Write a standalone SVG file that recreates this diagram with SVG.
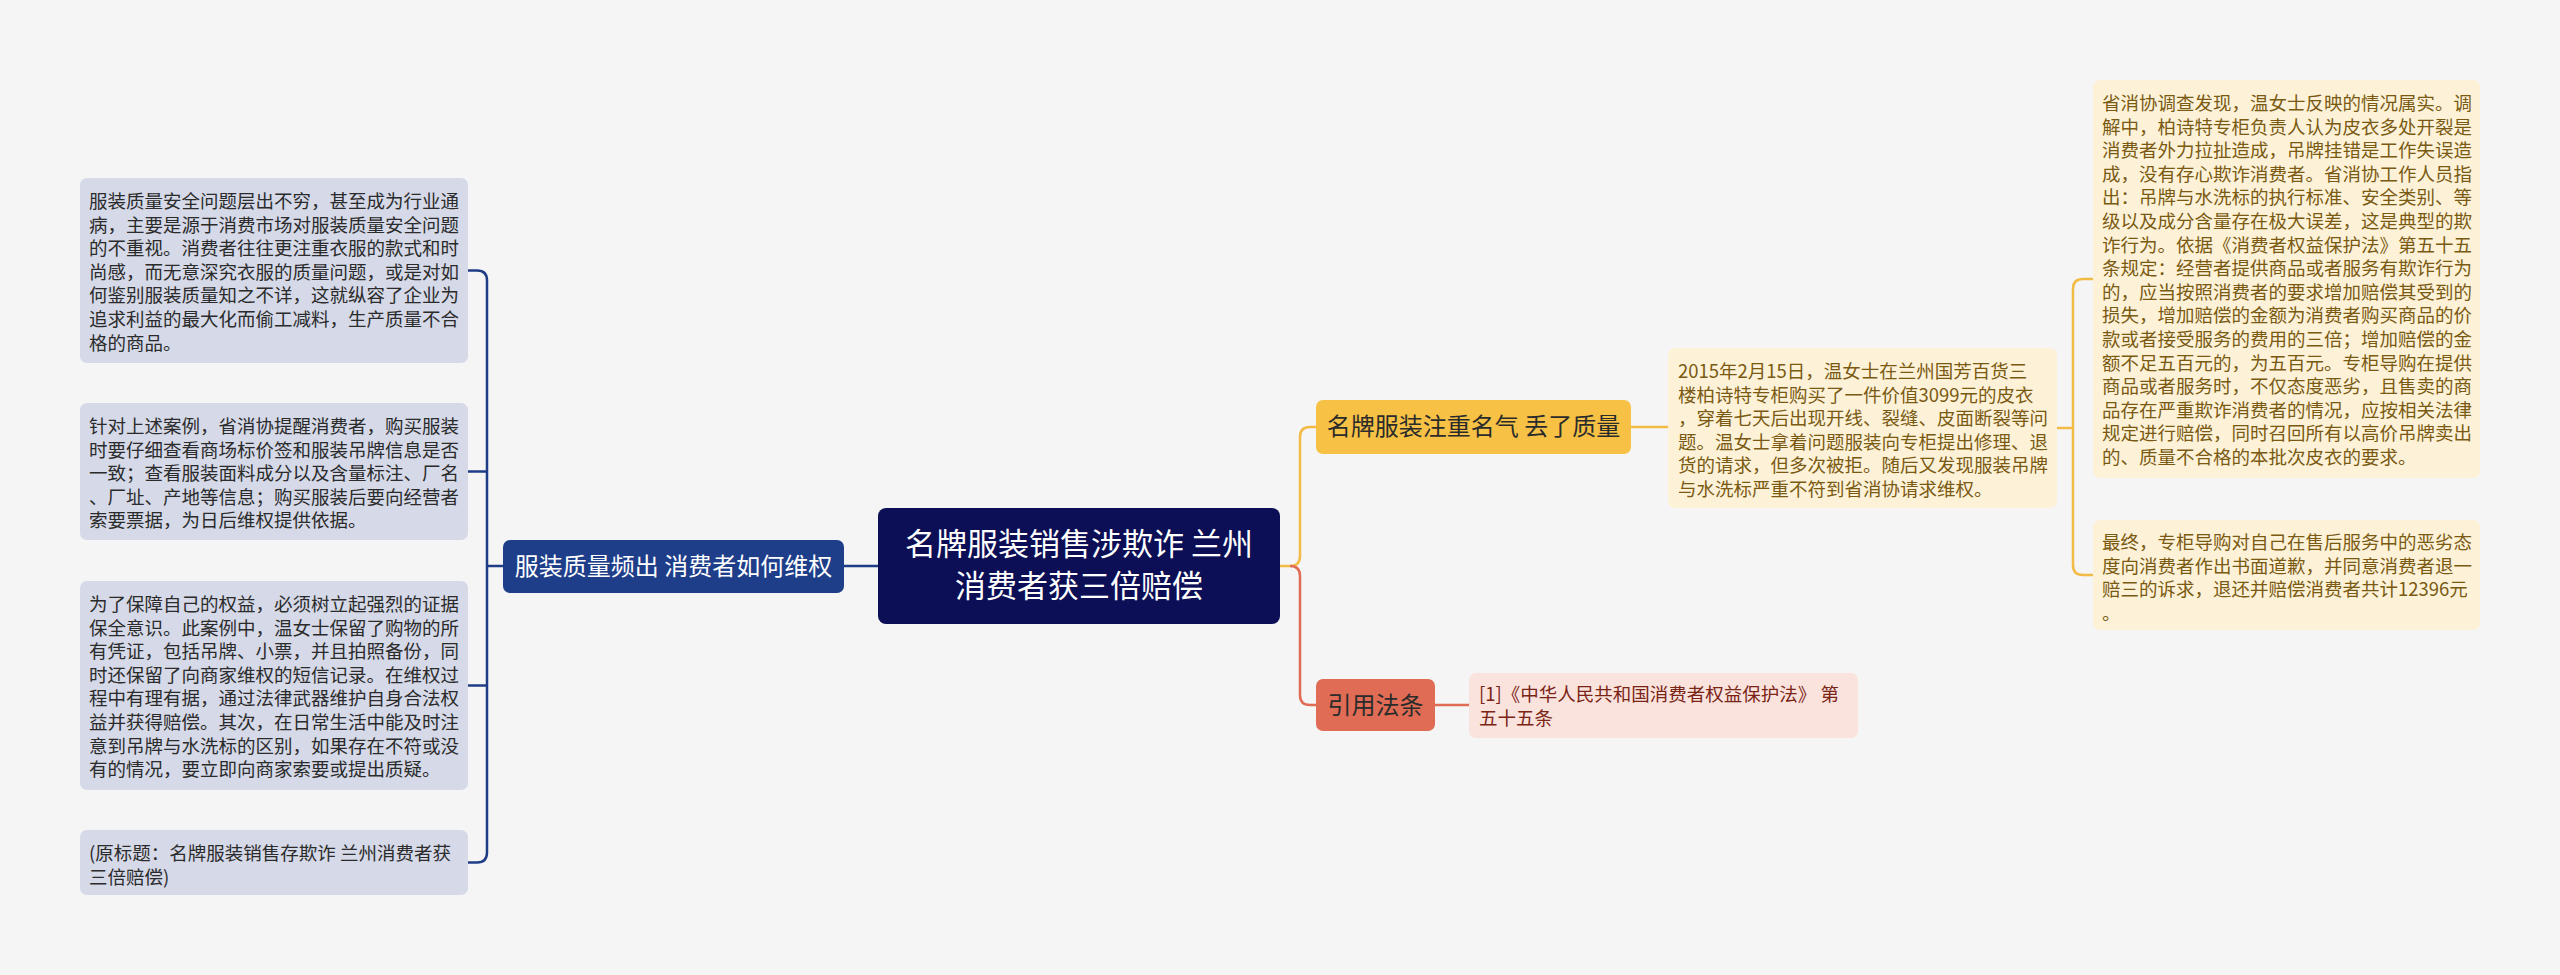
<svg xmlns="http://www.w3.org/2000/svg" width="2560" height="975" viewBox="0 0 2560 975">
<style>
text{font-family:"Noto Sans CJK SC","Noto Sans",sans-serif}
.leafL rect{fill:#d5d9e8}
.leafL text{fill:#2b2b2b;font-size:18.5px}
.leafY rect{fill:#fdf2d8}
.leafY text{fill:#7a5a12;font-size:18.5px}
.leafR rect{fill:#fae3dd}
.leafR text{fill:#7a2416;font-size:18.5px}
.conn path{fill:none;stroke-width:2.5}
</style>
<rect width="2560" height="975" fill="#f5f5f5"/>
<g class="conn" id="connectors">
<path d="M844,566 H878" stroke="#1f3d86"/>
<path d="M503,566 H487" stroke="#1f3d86"/>
<path d="M468,270.5 H477 Q487,270.5 487,280.5 V852.5 Q487,862.5 477,862.5 H468" stroke="#1f3d86"/>
<path d="M468,471.5 H487 M468,685.5 H487" stroke="#1f3d86"/>
<path d="M1280,566 H1290 Q1300,566 1300,556 V437 Q1300,427 1310,427 H1316" stroke="#f2bb45"/>
<path d="M1290,566 Q1300,566 1300,576 V695 Q1300,705 1310,705 H1316" stroke="#e06c55"/>
<path d="M1631,427 H1668" stroke="#f2bb45"/>
<path d="M2057,428 H2073" stroke="#f2bb45"/>
<path d="M2093,279 H2083 Q2073,279 2073,289 V565 Q2073,575 2083,575 H2093" stroke="#f2bb45"/>
<path d="M1435,705 H1469" stroke="#e06c55"/>
</g>
<g id="central">
<rect x="878" y="508" width="402" height="116" rx="8" fill="#0c0f55"/>
<text x="1079" y="555" font-size="31" fill="#fff" text-anchor="middle">名牌服装销售涉欺诈 兰州</text>
<text x="1079" y="597" font-size="31" fill="#fff" text-anchor="middle">消费者获三倍赔偿</text>
</g>
<g id="branch-left">
<rect x="503" y="540" width="341" height="53" rx="7" fill="#1e3e8a"/>
<text x="673.5" y="574.5" font-size="24" fill="#fff" text-anchor="middle">服装质量频出 消费者如何维权</text>
</g>
<g id="leaf-l1" class="leafL">
<rect x="80" y="178" width="388" height="185" rx="7"/>
<text x="89" y="208"><tspan x="89">服装质量安全问题层出不穷，甚至成为行业通</tspan><tspan x="89" dy="23.6">病，主要是源于消费市场对服装质量安全问题</tspan><tspan x="89" dy="23.6">的不重视。消费者往往更注重衣服的款式和时</tspan><tspan x="89" dy="23.6">尚感，而无意深究衣服的质量问题，或是对如</tspan><tspan x="89" dy="23.6">何鉴别服装质量知之不详，这就纵容了企业为</tspan><tspan x="89" dy="23.6">追求利益的最大化而偷工减料，生产质量不合</tspan><tspan x="89" dy="23.6">格的商品。</tspan></text>
</g>
<g id="leaf-l2" class="leafL">
<rect x="80" y="403" width="388" height="137" rx="7"/>
<text x="89" y="433"><tspan x="89">针对上述案例，省消协提醒消费者，购买服装</tspan><tspan x="89" dy="23.6">时要仔细查看商场标价签和服装吊牌信息是否</tspan><tspan x="89" dy="23.6">一致；查看服装面料成分以及含量标注、厂名</tspan><tspan x="89" dy="23.6">、厂址、产地等信息；购买服装后要向经营者</tspan><tspan x="89" dy="23.6">索要票据，为日后维权提供依据。</tspan></text>
</g>
<g id="leaf-l3" class="leafL">
<rect x="80" y="581" width="388" height="209" rx="7"/>
<text x="89" y="611"><tspan x="89">为了保障自己的权益，必须树立起强烈的证据</tspan><tspan x="89" dy="23.6">保全意识。此案例中，温女士保留了购物的所</tspan><tspan x="89" dy="23.6">有凭证，包括吊牌、小票，并且拍照备份，同</tspan><tspan x="89" dy="23.6">时还保留了向商家维权的短信记录。在维权过</tspan><tspan x="89" dy="23.6">程中有理有据，通过法律武器维护自身合法权</tspan><tspan x="89" dy="23.6">益并获得赔偿。其次，在日常生活中能及时注</tspan><tspan x="89" dy="23.6">意到吊牌与水洗标的区别，如果存在不符或没</tspan><tspan x="89" dy="23.6">有的情况，要立即向商家索要或提出质疑。</tspan></text>
</g>
<g id="leaf-l4" class="leafL">
<rect x="80" y="830" width="388" height="65" rx="7"/>
<text x="89" y="860"><tspan x="89">(原标题：名牌服装销售存欺诈 兰州消费者获</tspan><tspan x="89" dy="23.6">三倍赔偿)</tspan></text>
</g>
<g id="branch-yellow">
<rect x="1316" y="400" width="315" height="54" rx="7" fill="#f6c144"/>
<text x="1473.5" y="435" font-size="24" fill="#2b2b2b" text-anchor="middle">名牌服装注重名气 丢了质量</text>
</g>
<g id="leaf-y1" class="leafY">
<rect x="1668" y="348" width="389" height="160" rx="7"/>
<text x="1678" y="378"><tspan x="1678">2015年2月15日，温女士在兰州国芳百货三</tspan><tspan x="1678" dy="23.6">楼柏诗特专柜购买了一件价值3099元的皮衣</tspan><tspan x="1678" dy="23.6">，穿着七天后出现开线、裂缝、皮面断裂等问</tspan><tspan x="1678" dy="23.6">题。温女士拿着问题服装向专柜提出修理、退</tspan><tspan x="1678" dy="23.6">货的请求，但多次被拒。随后又发现服装吊牌</tspan><tspan x="1678" dy="23.6">与水洗标严重不符到省消协请求维权。</tspan></text>
</g>
<g id="leaf-y2" class="leafY">
<rect x="2093" y="80" width="387" height="398" rx="7"/>
<text x="2102" y="110"><tspan x="2102">省消协调查发现，温女士反映的情况属实。调</tspan><tspan x="2102" dy="23.6">解中，柏诗特专柜负责人认为皮衣多处开裂是</tspan><tspan x="2102" dy="23.6">消费者外力拉扯造成，吊牌挂错是工作失误造</tspan><tspan x="2102" dy="23.6">成，没有存心欺诈消费者。省消协工作人员指</tspan><tspan x="2102" dy="23.6">出：吊牌与水洗标的执行标准、安全类别、等</tspan><tspan x="2102" dy="23.6">级以及成分含量存在极大误差，这是典型的欺</tspan><tspan x="2102" dy="23.6">诈行为。依据《消费者权益保护法》第五十五</tspan><tspan x="2102" dy="23.6">条规定：经营者提供商品或者服务有欺诈行为</tspan><tspan x="2102" dy="23.6">的，应当按照消费者的要求增加赔偿其受到的</tspan><tspan x="2102" dy="23.6">损失，增加赔偿的金额为消费者购买商品的价</tspan><tspan x="2102" dy="23.6">款或者接受服务的费用的三倍；增加赔偿的金</tspan><tspan x="2102" dy="23.6">额不足五百元的，为五百元。专柜导购在提供</tspan><tspan x="2102" dy="23.6">商品或者服务时，不仅态度恶劣，且售卖的商</tspan><tspan x="2102" dy="23.6">品存在严重欺诈消费者的情况，应按相关法律</tspan><tspan x="2102" dy="23.6">规定进行赔偿，同时召回所有以高价吊牌卖出</tspan><tspan x="2102" dy="23.6">的、质量不合格的本批次皮衣的要求。</tspan></text>
</g>
<g id="leaf-y3" class="leafY">
<rect x="2093" y="520" width="387" height="110" rx="7"/>
<text x="2102" y="549"><tspan x="2102">最终，专柜导购对自己在售后服务中的恶劣态</tspan><tspan x="2102" dy="23.6">度向消费者作出书面道歉，并同意消费者退一</tspan><tspan x="2102" dy="23.6">赔三的诉求，退还并赔偿消费者共计12396元</tspan><tspan x="2102" dy="23.6">。</tspan></text>
</g>
<g id="branch-red">
<rect x="1316" y="679" width="119" height="52" rx="7" fill="#e06c55"/>
<text x="1375.5" y="713.5" font-size="24" fill="#2b2b2b" text-anchor="middle">引用法条</text>
</g>
<g id="leaf-r1" class="leafR">
<rect x="1469" y="673" width="389" height="65" rx="7"/>
<text x="1479" y="701"><tspan x="1479">[1]《中华人民共和国消费者权益保护法》 第</tspan><tspan x="1479" dy="23.6">五十五条</tspan></text>
</g>
</svg>
